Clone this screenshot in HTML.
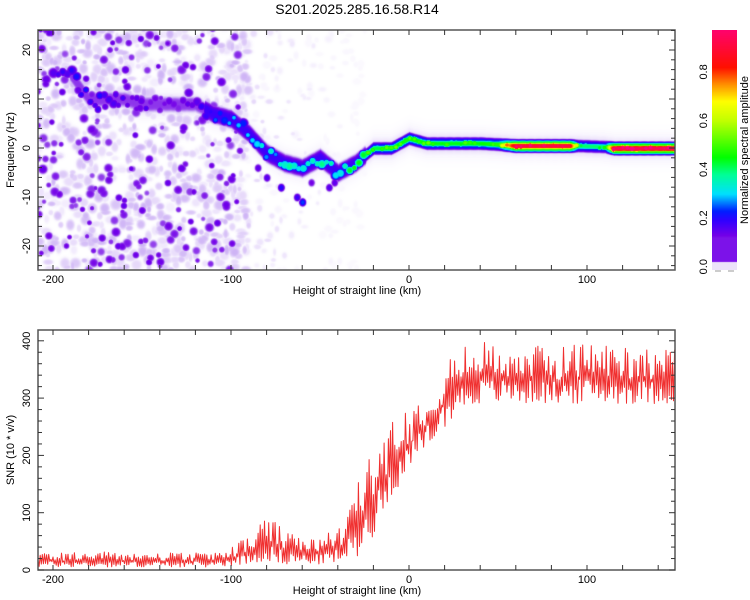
<!DOCTYPE html>
<html><head><meta charset="utf-8"><style>
html,body{margin:0;padding:0;background:#fff;}
#wrap{position:relative;width:750px;height:600px;overflow:hidden;font-family:"Liberation Sans",sans-serif;}
canvas{position:absolute;}
svg{position:absolute;left:0;top:0;}
</style></head><body>
<div id="wrap">
<canvas id="heat" width="637" height="240" style="left:38px;top:30px"></canvas>
<canvas id="cbar" width="25" height="240" style="left:712px;top:30px"></canvas>
<svg id="svg" width="750" height="600"></svg>
</div>
<script>
// ---- data ----
const ridgeKm   = [-210,-190,-180,-170,-160,-150,-130,-120,-110,-100,-90,-80,-70,-60,-50,-40,-30,-20,-10,0,10,20,40,50,60,90,95,110,115,130,150];
const ridgeFreq = [14,15,10,10,10,9,9,9,7,6,3,-1,-3,-4,-2,-5,-3,0,0,2,1,1,1,0.8,0.5,0.5,0.5,0.3,0,0,0];
const ridgeAmp  = [0.12,0.17,0.18,0.17,0.15,0.14,0.12,0.14,0.2,0.24,0.26,0.28,0.3,0.32,0.32,0.34,0.4,0.42,0.44,0.47,0.45,0.44,0.45,0.48,0.92,0.92,0.4,0.4,0.95,0.95,0.95];
const extraKm   = [-72,-63,-60,-45,-42,-80,-85,-55,-190,-175,-165];
const extraFreq = [-8,-10,-11,-8,-7,-6,-4,-7,16,8,11];
const extraAmp  = [0.2,0.18,0.24,0.16,0.15,0.16,0.15,0.13,0.2,0.18,0.16];
const snrKm   = [-210,-190,-170,-150,-130,-110,-100,-90,-80,-70,-60,-50,-40,-30,-20,-10,0,10,20,30,40,60,80,100,120,150];
const snrLow  = [5,5,5,5,5,5,8,10,15,10,10,10,12,20,60,130,170,210,250,280,290,290,290,290,290,290];
const snrHigh = [30,32,32,30,30,30,40,60,95,70,55,55,75,140,220,260,290,320,360,390,400,395,390,400,395,390];
const xTicks = [-200,-100,0,100];
const freqTicks = [-20,-10,0,10,20];
const snrTicks = [0,100,200,300,400];
const cbTicks = [0.0,0.2,0.4,0.6,0.8];

// ---- scales ----
const X0=38,X1=675;
const xs = v => 409 + 1.78*v;
const yf = f => 148 - 4.9*f;
const ys = v => 570 - 0.573*v;
const yc = v => 266.7 - 243.5*v;
function interp(xa,ya,x){
  if(x<=xa[0])return ya[0];
  for(let i=1;i<xa.length;i++) if(x<=xa[i]){const t=(x-xa[i-1])/(xa[i]-xa[i-1]);return ya[i-1]+t*(ya[i]-ya[i-1]);}
  return ya[ya.length-1];
}
const stops=[[0,[255,255,255]],[0.015,[249,246,254]],[0.035,[230,216,250]],[0.06,[200,170,244]],[0.09,[150,70,236]],[0.13,[115,0,232]],[0.19,[50,0,255]],[0.23,[0,30,255]],[0.3,[0,224,255]],[0.38,[0,255,150]],[0.45,[0,255,0]],[0.6,[192,255,0]],[0.68,[255,255,0]],[0.75,[255,144,0]],[0.82,[255,16,0]],[1,[255,0,128]]];
function cmap(v){
  v=Math.max(0,Math.min(1,v));
  for(let i=1;i<stops.length;i++) if(v<=stops[i][0]){const a=stops[i-1],b=stops[i],t=(v-a[0])/(b[0]-a[0]);return a[1].map((c,k)=>c+t*(b[1][k]-c));}
  return stops[stops.length-1][1];
}
// ---- heatmap ----
(function(){
  const c=document.getElementById('heat'),ctx=c.getContext('2d'),W=637,H=240;
  const bg=new Float32Array(W*H), rf=new Float32Array(W*H);
  let seed=12345;const rnd=()=>{seed=(seed*1103515245+12345)%2147483648;return seed/2147483648;};
  function blob(arr,useMax,px,py,rx,ry,a,flat){
    for(let y=Math.max(0,Math.floor(py-ry*2.5));y<Math.min(H,py+ry*2.5);y++)for(let x=Math.max(0,Math.floor(px-rx*2.5));x<Math.min(W,px+rx*2.5);x++){
      const d=((x-px)/rx)**2+((y-py)/ry)**2;const v=a*Math.exp(flat?-d*d:-d);const i=y*W+x;
      if(useMax){if(v>arr[i])arr[i]=v;}else arr[i]+=v;}
  }
  // background speckle texture
  for(let i=0;i<850;i++){
    const km=-210+rnd()*120, f=-25+rnd()*50;
    blob(bg,true,xs(km)-X0,yf(f)-30,2.5+rnd()*4,2.5+rnd()*4,0.02+rnd()*0.035,true);
  }
  for(let i=0;i<220;i++){
    const km=-210+rnd()*115, f=-25+rnd()*50;
    const r=2.5+rnd()*2.5;
    blob(bg,true,xs(km)-X0,yf(f)-30,r,r,0.09+rnd()*0.06,true);
  }
  for(let i=0;i<220;i++){
    const km=-100+rnd()*75, f=-25+rnd()*50;
    blob(bg,true,xs(km)-X0,yf(f)-30,2+rnd()*2.5,2+rnd()*2.5,0.01+rnd()*0.03*(1-(km+100)/75),true);
  }
  // ridge: continuous base
  for(let km=-190;km<150;km+=0.5){
    const cf=interp(ridgeKm,ridgeFreq,km),a=interp(ridgeKm,ridgeAmp,km);
    const px=xs(km)-X0,py=yf(cf)-30;
    blob(rf,true,px,py,2,12,0.04);
    if(km>-25){ blob(rf,true,px,py,2,6,a*0.6,true); blob(rf,true,px,py,2,3.2,a,true); }
    else if(km>-115) blob(rf,true,px,py,2,9,0.18,true);
    else blob(rf,true,px,py,2,8,0.1,true);
  }
  // ridge spots
  for(let km=-200;km<150;km+=2.6){
    const cf=interp(ridgeKm,ridgeFreq,km),a=interp(ridgeKm,ridgeAmp,km);
    const jit=km<-25?(rnd()-0.5)*12:(rnd()-0.5)*2;
    const r=km<-25?3+rnd()*2.5:2.5+rnd()*2;
    blob(rf,true,xs(km)-X0,yf(cf)-30+jit,r,km<-25?r:3,a*(0.9+0.35*rnd()),true);
  }
  for(let i=0;i<extraKm.length;i++) blob(rf,true,xs(extraKm[i])-X0,yf(extraFreq[i])-30,3.5,4,extraAmp[i],true);
  const img=ctx.createImageData(W,H);
  for(let i=0;i<W*H;i++){const col=cmap(Math.max(bg[i],rf[i]));img.data[i*4]=col[0];img.data[i*4+1]=col[1];img.data[i*4+2]=col[2];img.data[i*4+3]=255;}
  ctx.putImageData(img,0,0);
  // colorbar
  const cb=document.getElementById('cbar').getContext('2d');
  for(let y=0;y<240;y++){const v=(266.7-(y+30))/243.5;const col=v<0.02?[236,226,250]:cmap(Math.max(v,0.12));cb.fillStyle=`rgb(${col.map(Math.round).join(',')})`;cb.fillRect(0,y,25,1);}
})();
// ---- svg axes ----
const NS='http://www.w3.org/2000/svg',svg=document.getElementById('svg');
function el(t,attrs,parent){const e=document.createElementNS(NS,t);for(const k in attrs)e.setAttribute(k,attrs[k]);(parent||svg).appendChild(e);return e;}
function txt(s,x,y,size,anchor,rot,name){
  const e=el('text',{x:x,y:y,'font-size':size,'text-anchor':anchor||'middle','font-family':'Liberation Sans, sans-serif',fill:'#000'});
  if(rot)e.setAttribute('transform',`rotate(-90 ${x} ${y})`);
  e.textContent=s;
  
  
  return e;
}
const title=txt('S201.2025.285.16.58.R14',357,14,14,'middle',false,'chart-title');
function panel(yt,yb,yfn,yMinor,yMajorList,yMinorRange,yLabel,name){
  const g=el('g',{});
  
  
  el('rect',{x:X0,y:yt,width:X1-X0,height:yb-yt,fill:'none',stroke:'#555','stroke-width':1.5},g);
  for(let v=-200;v<=140;v+=20){const x=xs(v);
    el('line',{x1:x,y1:yt,x2:x,y2:yt+5,stroke:'#333'},g);el('line',{x1:x,y1:yb,x2:x,y2:yb-5,stroke:'#333'},g);}
  xTicks.forEach(v=>txt(String(v),xs(v),yb+13,11,'middle',false,'x-tick-label'));
  txt('Height of straight line (km)',357,yb+24,11,'middle',false,'x-axis-title');
  for(let v=yMinorRange[0];v<=yMinorRange[1];v+=yMinor){const y=yfn(v);const len=yMajorList.includes(v)?6:4;
    el('line',{x1:X0,y1:y,x2:X0+len,y2:y,stroke:'#333'},g);el('line',{x1:X1,y1:y,x2:X1-len,y2:y,stroke:'#333'},g);}
  yMajorList.forEach(v=>txt(String(v),30,yfn(v),11,'middle',true,'y-tick-label'));
  txt(yLabel,14,(yt+yb)/2,11,'middle',true,'y-axis-title');
}
panel(30,270,yf,2,freqTicks,[-24,24],'Frequency (Hz)','spectrogram-panel');
// snr line
(function(){
  let seed=777;const rnd=()=>{seed=(seed*1103515245+12345)%2147483648;return seed/2147483648;};
  let d='';let k=0;
  for(let km=-209;km<=150;km+=0.6,k++){
    const lo=interp(snrKm,snrLow,km),hi=interp(snrKm,snrHigh,km);
    const r=(k%2)?0.4+0.6*rnd():0.4*rnd();
    const v=lo+(hi-lo)*r;
    d+=(k?'L':'M')+xs(km).toFixed(1)+' '+ys(v).toFixed(1);
  }
  const cp=el('clipPath',{id:'cp'});el('rect',{x:X0,y:330,width:X1-X0,height:240},cp);
  const p=el('path',{d:d,fill:'none',stroke:'#f03030','stroke-width':1,'stroke-linejoin':'round'});
  
  
  p.setAttribute('clip-path','url(#cp)');
})();
panel(330,570,ys,20,snrTicks,[0,400],'SNR (10 * v/v)','snr-panel');
// colorbar labels
cbTicks.forEach(v=>txt(v.toFixed(1),707,yc(v),11,'middle',true,'colorbar-tick-label'));
txt('Normalized spectral amplitude',748,150,11,'middle',true,'colorbar-title');
el('line',{x1:715,y1:271,x2:721,y2:271,stroke:'#999'});el('line',{x1:728,y1:271,x2:734,y2:271,stroke:'#999'});
</script>
</body></html>
